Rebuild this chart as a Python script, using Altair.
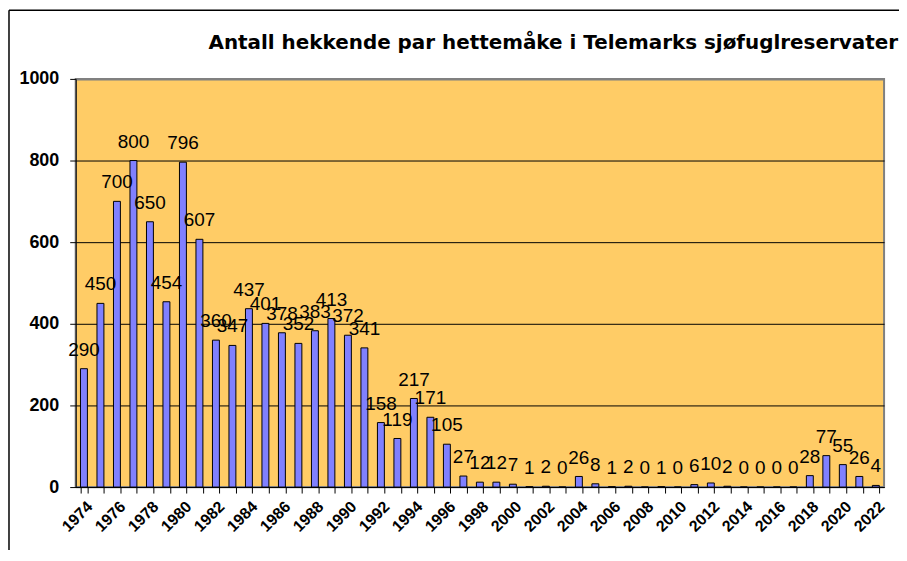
import altair as alt
import pandas as pd

years = list(range(1974, 2023))
values = [290, 450, 700, 800, 650, 454, 796, 607, 360, 347,
          437, 401, 378, 352, 383, 413, 372, 341, 158, 119,
          217, 171, 105, 27, 12, 12, 7, 1, 2, 0,
          26, 8, 1, 2, 0, 1, 0, 6, 10, 2,
          0, 0, 0, 0, 28, 77, 55, 26, 4]
y_ticks = [0, 200, 400, 600, 800, 1000]
title_text = "Antall hekkende par hettemåke i Telemarks sjøfuglreservater"

df = pd.DataFrame({"year": [str(y) for y in years], "value": values})
title_df = pd.DataFrame({"t": [title_text]})

FONT = "Liberation Sans"

x_enc = alt.X(
    "year:O",
    scale=alt.Scale(paddingInner=0.58, paddingOuter=0.29),
    axis=alt.Axis(
        title=None,
        labelAngle=-45,
        labelExpr="parseInt(datum.value) % 2 == 0 ? datum.label : ''",
        tickBand="extent",
        labelFont=FONT,
        labelFontSize=16,
        labelFontWeight="bold",
        labelColor="black",
        domainColor="black",
        tickColor="black",
        tickSize=6,
        labelPadding=5,
        grid=False,
    ),
)
y_enc = alt.Y(
    "value:Q",
    scale=alt.Scale(domain=[0, 1000], nice=False),
    axis=alt.Axis(
        title=None,
        values=y_ticks,
        format="d",
        labelFont=FONT,
        labelFontSize=18,
        labelFontWeight="bold",
        labelColor="black",
        domainColor="black",
        tickColor="black",
        tickSize=6,
        labelPadding=11,
        grid=True,
        gridColor={"condition": {"test": "datum.value === 1000", "value": "#808080"}, "value": "black"},
        gridWidth={"condition": {"test": "datum.value === 1000", "value": 2}, "value": 1},
        gridOpacity=1,
    ),
)

bars = alt.Chart(df).mark_bar(color="#8080FF", stroke="black", strokeWidth=1).encode(
    x=x_enc, y=y_enc
)
labels = alt.Chart(df).mark_text(
    font=FONT, fontSize=19, color="black", baseline="alphabetic", dy=-13
).encode(x="year:O", y="value:Q", text="value:Q")

title_mark = alt.Chart(title_df).mark_text(
    font="DejaVu Sans", fontSize=20, fontWeight="bold", color="black",
    align="right", baseline="alphabetic", clip=False
).encode(x=alt.value(826), y=alt.value(-30), text="t:N")

frame_left = alt.Chart(title_df).mark_rule(color="black", strokeWidth=1.5, clip=False).encode(
    x=alt.value(-67), y=alt.value(-69), y2=alt.value(500)
)
frame_top = alt.Chart(title_df).mark_rule(color="black", strokeWidth=1.5, clip=False).encode(
    x=alt.value(-67), x2=alt.value(840), y=alt.value(-69)
)

chart = alt.layer(bars, labels, title_mark, frame_left, frame_top).properties(
    width=812,
    height=410,
    background="white",
    autosize=alt.AutoSizeParams(type="none"),
    padding={"left": 68, "top": 70, "right": 15, "bottom": 62},
).configure_view(
    fill="#FFCC66", stroke="#808080", strokeWidth=2
)

chart.save("out.html", embed_options={"renderer": "svg", "actions": False})
